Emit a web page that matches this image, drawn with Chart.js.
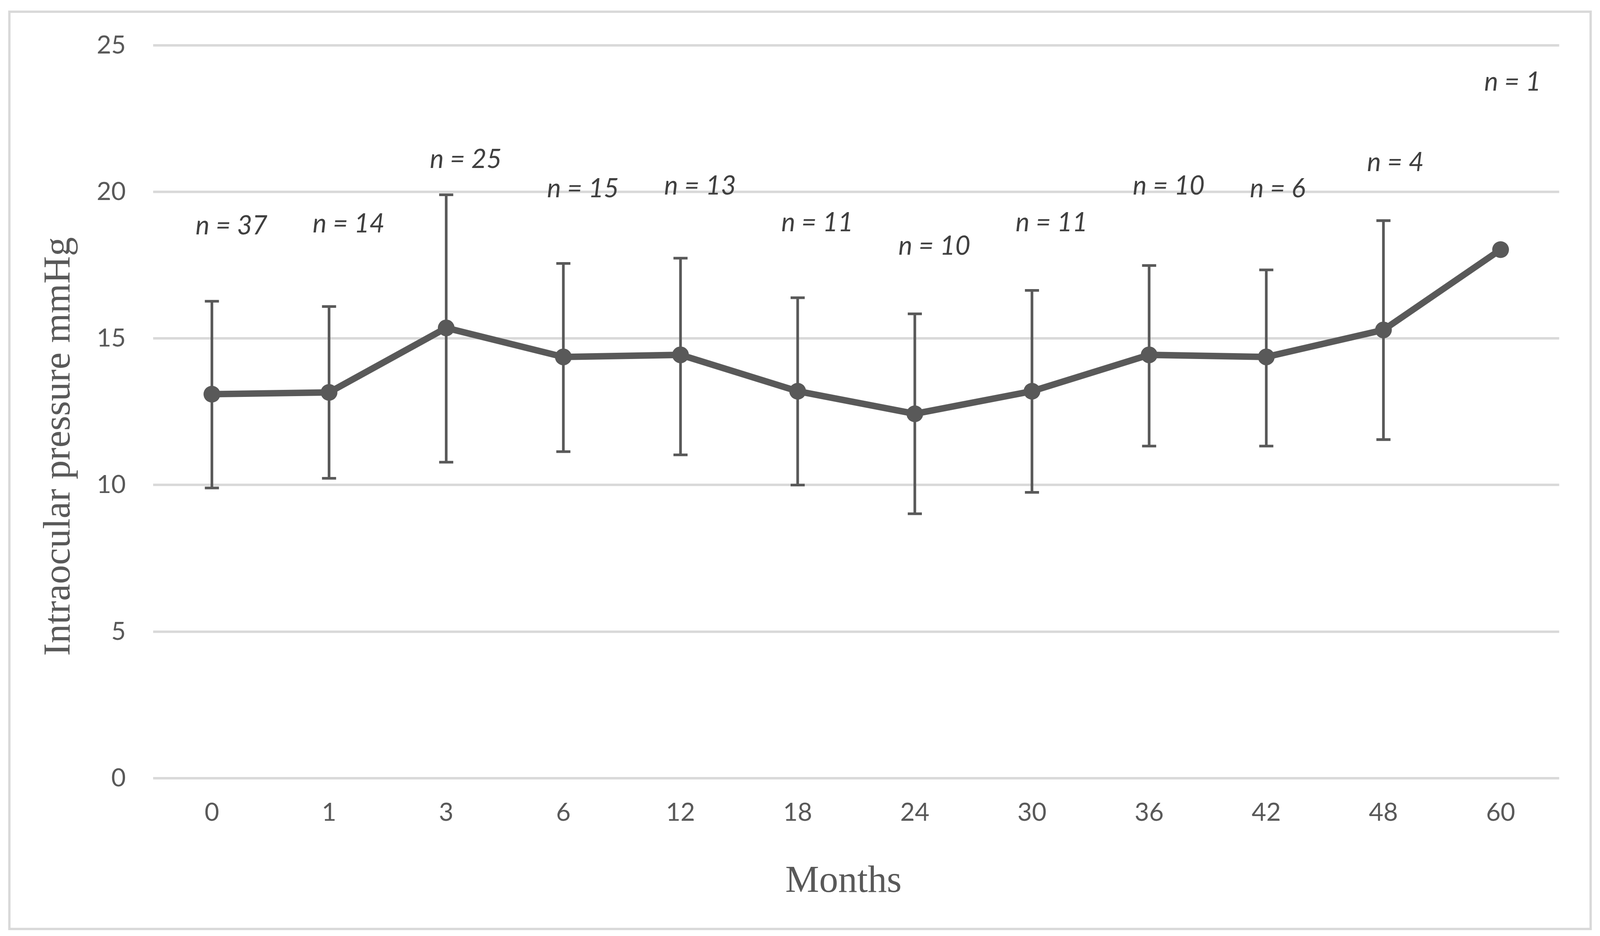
<!DOCTYPE html>
<html>
<head>
<meta charset="utf-8">
<script src="https://cdn.jsdelivr.net/npm/chart.js@4.4.0/dist/chart.umd.min.js"></script>
<style>
  html, body { margin: 0; padding: 0; background: #fff; overflow: hidden; }
  #wrap { position: relative; }
  #frame { position: absolute; box-sizing: border-box; border: 6px solid #d9d9d9; }
  canvas { position: absolute; left: 0; top: 0; }
</style>
</head>
<body>
<div id="wrap">
  <div id="frame"></div>
  <canvas id="iopChart"></canvas>
</div>
<script>
const months = ['0', '1', '3', '6', '12', '18', '24', '30', '36', '42', '48', '60'];
const iopMean = [13.1, 13.16, 15.36, 14.37, 14.44, 13.2, 12.43, 13.2, 14.44, 14.37, 15.29, 18.03];
const iopUpper = [16.27, 16.09, 19.9, 17.56, 17.74, 16.39, 15.84, 16.64, 17.49, 17.34, 19.02, null];
const iopLower = [9.9, 10.23, 10.78, 11.14, 11.03, 10.0, 9.02, 9.75, 11.33, 11.33, 11.55, null];
const nPatients = [37, 14, 25, 15, 13, 11, 10, 11, 10, 6, 4, 1];
// height (mmHg) where each "n = .." label sits
const nLabelAt = [18.84, 18.9, 21.1, 20.1, 20.2, 18.95, 18.15, 18.95, 20.2, 20.1, 21.0, 23.75];

const grey = '#595959';

// the reference was 4310 x 2396, scale everything to the real window
const W = window.innerWidth;
const H = window.innerHeight;
const sx = W / 4310;
const sy = H / 2396;
const f = (sx + sy) / 2;

const frame = document.getElementById('frame');
frame.style.left = (22 * sx) + 'px';
frame.style.top = (27 * sy) + 'px';
frame.style.width = (4266 * sx) + 'px';
frame.style.height = (2354 * sy) + 'px';
document.getElementById('wrap').style.width = W + 'px';
document.getElementById('wrap').style.height = H + 'px';

const canvas = document.getElementById('iopChart');
canvas.width = W;
canvas.height = H;

// error bars + n labels + axis titles
const extras = {
  id: 'extras',
  beforeDatasetsDraw(chart) {
    const { ctx, scales: { x, y } } = chart;
    const cap = 19 * sx;
    ctx.save();
    ctx.strokeStyle = grey;
    ctx.lineWidth = 7 * f;
    months.forEach((m, i) => {
      if (iopUpper[i] === null) return;
      const px = x.getPixelForValue(i);
      const top = y.getPixelForValue(iopUpper[i]);
      const bot = y.getPixelForValue(iopLower[i]);
      ctx.beginPath();
      ctx.moveTo(px, top); ctx.lineTo(px, bot);
      ctx.moveTo(px - cap, top); ctx.lineTo(px + cap, top);
      ctx.moveTo(px - cap, bot); ctx.lineTo(px + cap, bot);
      ctx.stroke();
    });
    ctx.restore();
  },
  afterDraw(chart) {
    const { ctx, scales: { x, y } } = chart;
    ctx.save();
    ctx.fillStyle = '#404040';
    ctx.font = 'italic ' + (69 * f) + 'px Lato';
    ctx.textAlign = 'left';
    ctx.textBaseline = 'middle';
    nPatients.forEach((n, i) => {
      ctx.fillText('n = ' + n, x.getPixelForValue(i) - 44 * sx, y.getPixelForValue(nLabelAt[i]));
    });

    ctx.fillStyle = grey;
    ctx.font = (100 * f) + 'px "Liberation Serif"';
    ctx.textAlign = 'center';
    ctx.textBaseline = 'alphabetic';
    ctx.fillText('Months', 2272 * sx, 2283 * sy);
    ctx.translate(187 * sx, 1143 * sy);
    ctx.rotate(-Math.PI / 2);
    ctx.fillText('Intraocular pressure mmHg', 0, 0);
    ctx.restore();
  }
};

new Chart(canvas, {
  type: 'line',
  data: {
    labels: months,
    datasets: [{
      data: iopMean,
      borderColor: grey,
      backgroundColor: grey,
      borderWidth: 17 * f,
      pointRadius: 22 * f,
      pointBorderWidth: 0,
      tension: 0
    }]
  },
  options: {
    responsive: false,
    animation: false,
    devicePixelRatio: 1,
    layout: { padding: { top: 116 * sy, right: W - 4200 * sx, left: 0, bottom: 0 } },
    plugins: { legend: { display: false }, tooltip: { enabled: false } },
    scales: {
      x: {
        offset: true,
        grid: { display: false, drawTicks: false },
        border: { display: false },
        ticks: { color: grey, font: { family: 'Lato', size: 66 * f }, padding: 50 * sy },
        afterFit(scale) { scale.height = H - 1992 * sy; }
      },
      y: {
        min: 0,
        max: 25,
        ticks: { stepSize: 5, color: grey, font: { family: 'Lato', size: 66 * f }, padding: 74 * sx },
        grid: { color: '#d9d9d9', lineWidth: 6.5 * f, drawTicks: false },
        border: { display: false },
        afterFit(scale) { scale.width = 413 * sx; }
      }
    }
  },
  plugins: [extras]
});
</script>
</body>
</html>
